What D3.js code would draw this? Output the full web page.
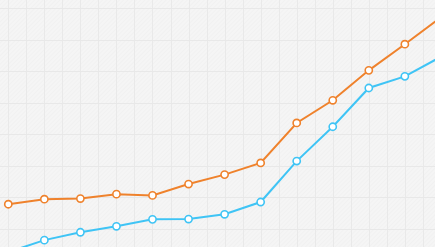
<!DOCTYPE html>
<html>
<head>
<meta charset="utf-8">
<script src="https://cdn.jsdelivr.net/npm/d3@7"></script>
<style>
  html, body { margin: 0; padding: 0; background: #f4f4f4; overflow: hidden; }
  svg { display: block; }
</style>
</head>
<body>
<div id="chart"></div>
<script>
// categories (no labels shown in the picture)
const categories = ["1", "2", "3", "4", "5", "6", "7", "8", "9", "10", "11", "12", "13"];
// series values
const orangeValues = [17.8, 19.4, 19.6, 21.0, 20.6, 24.2, 27.2, 30.9, 43.6, 50.8, 60.3, 68.6, 77.1];
const blueValues = [2.6, 6.4, 8.9, 10.8, 13.0, 13.1, 14.6, 18.5, 31.5, 42.4, 54.7, 58.4, 64.6];
// grid steps
const yGridValues = [0, 10, 20, 30, 40, 50, 60, 70, 80];

const width = 435, height = 247;

const svg = d3.select("#chart").append("svg")
    .attr("width", width)
    .attr("height", height);

// diagonal hatch background
const defs = svg.append("defs");
const pat = defs.append("pattern")
    .attr("id", "hatch")
    .attr("patternUnits", "userSpaceOnUse")
    .attr("width", 3)
    .attr("height", 3)
    .attr("patternTransform", "rotate(45)");
pat.append("rect").attr("width", 3).attr("height", 3).attr("fill", "#f5f5f5");
pat.append("line")
    .attr("x1", 0).attr("y1", 0).attr("x2", 0).attr("y2", 3)
    .attr("stroke", "#eeeeee").attr("stroke-width", 1);

svg.append("rect")
    .attr("width", width)
    .attr("height", height)
    .attr("fill", "url(#hatch)");

const x = d3.scaleLinear()
    .domain([0, categories.length - 1])
    .range([8.3, 8.3 + 36.05 * (categories.length - 1)]);

const y = d3.scaleLinear()
    .domain([0, 80])
    .range([260.3, 8.3]);

// grid
const xGrid = d3.range(-0.5, categories.length, 0.5);
svg.append("g").selectAll("line")
    .data(xGrid)
    .join("line")
    .attr("x1", d => Math.round(x(d)) + 0.5)
    .attr("x2", d => Math.round(x(d)) + 0.5)
    .attr("y1", 0)
    .attr("y2", height)
    .attr("stroke", "#e9e9e9")
    .attr("stroke-width", 1);

svg.append("g").selectAll("line")
    .data(yGridValues)
    .join("line")
    .attr("x1", 0)
    .attr("x2", width)
    .attr("y1", d => Math.round(y(d)) + 0.5)
    .attr("y2", d => Math.round(y(d)) + 0.5)
    .attr("stroke", "#e8e8e8")
    .attr("stroke-width", 1);

function drawSeries(values, color) {
    const line = d3.line()
        .x((d, i) => x(i))
        .y(d => y(d));

    svg.append("path")
        .datum(values)
        .attr("d", line)
        .attr("fill", "none")
        .attr("stroke", color)
        .attr("stroke-width", 2);

    svg.append("g").selectAll("circle")
        .data(values)
        .join("circle")
        .attr("cx", (d, i) => x(i))
        .attr("cy", d => y(d))
        .attr("r", 3.6)
        .attr("fill", "#ffffff")
        .attr("stroke", color)
        .attr("stroke-width", 1.6);
}

drawSeries(blueValues, "#3fc4f5");
drawSeries(orangeValues, "#ef822c");
</script>
</body>
</html>
